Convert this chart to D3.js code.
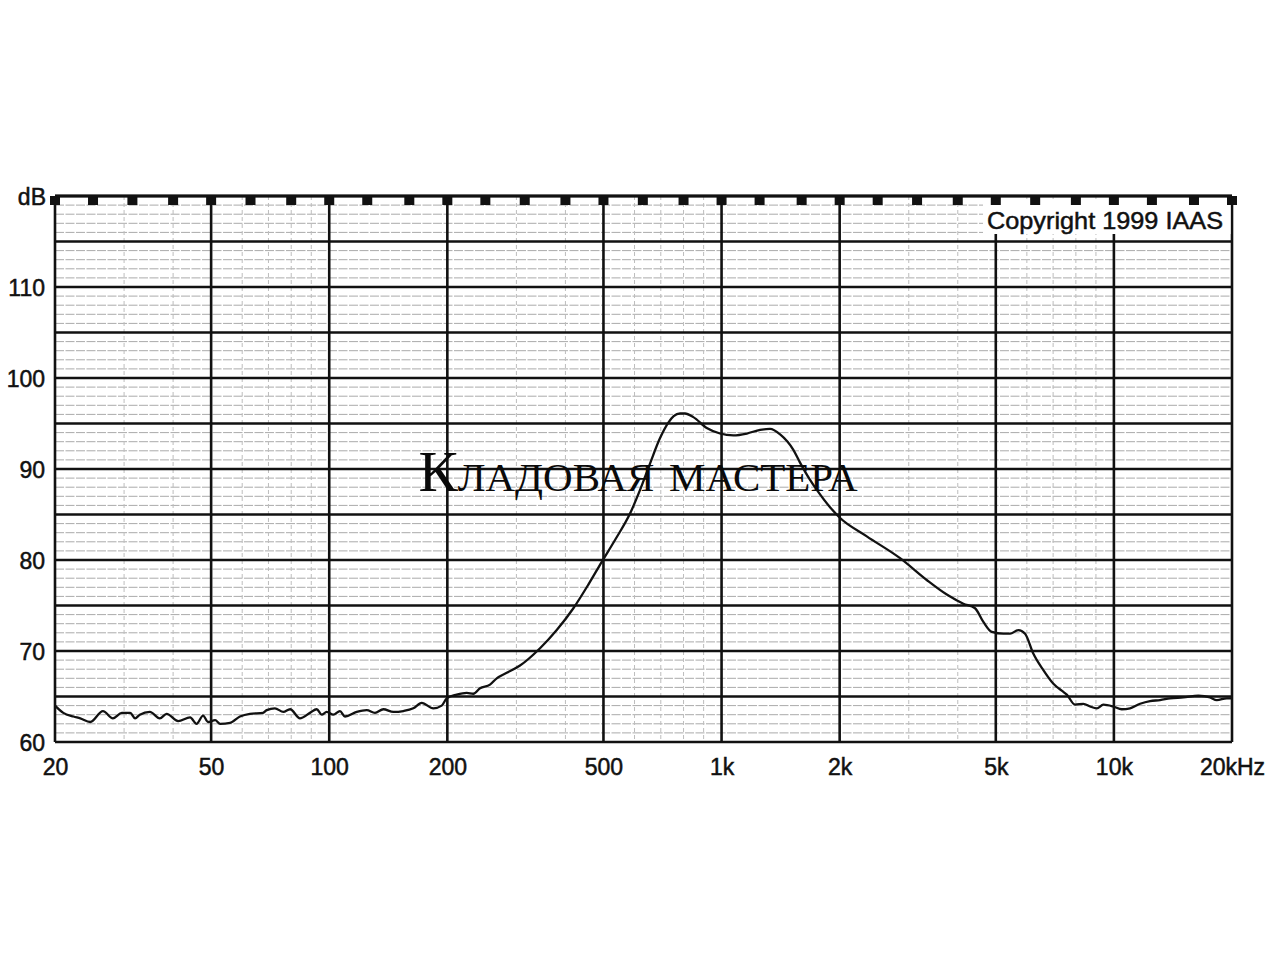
<!DOCTYPE html>
<html>
<head>
<meta charset="utf-8">
<script src="https://cdn.jsdelivr.net/npm/d3@7/dist/d3.min.js"></script>
<style>
  html, body { margin: 0; padding: 0; background: #fff; }
  svg { display: block; }
</style>
</head>
<body>
<svg id="chart" width="1280" height="960"></svg>
<script>
// ---- data ----
const freqHz = [20, 21.0, 22.3, 23.2, 24.6, 26.5, 28.1, 29.6, 31.1, 32.0, 32.9, 34.9, 37.0, 38.5, 41.2, 44.2, 45.9, 47.7, 49.1, 51.2, 52.7, 55.9, 59.2, 62.8, 67.8, 69.3, 72.7, 76.4, 79.5, 84.2, 89.3, 92.9, 95.7, 98.5, 102.4, 106.5, 109.7, 117.5, 124.6, 130.8, 137.4, 145.7, 154.5, 163.8, 172.1, 184.2, 193.5, 199.3, 211.3, 224.1, 233.0, 242.3, 256.9, 267.3, 283.4, 306.4, 344.6, 380.1, 419.1, 457.6, 495.1, 535.1, 584.4, 619.8, 657.1, 697.0, 731.8, 755, 783.7, 807.1, 847.4, 916.9, 991, 1072, 1160, 1254, 1329, 1410, 1524, 1585, 1681, 1749, 1890, 1996, 2345, 2851, 3334, 3750, 4134, 4427, 4648, 4884, 5228, 5437, 5709, 5937, 6235, 6610, 7011, 7435, 7585, 7962, 8360, 8694, 9044, 9398, 9966, 10472, 10996, 11662, 12366, 13114, 13906, 15032, 16418, 17580, 18292, 19396, 20000];
const splDb = [64.0, 63.2, 62.8, 62.6, 62.2, 63.4, 62.6, 63.2, 63.2, 62.6, 63.0, 63.3, 62.6, 63.1, 62.3, 62.7, 62.0, 62.9, 62.2, 62.4, 62.0, 62.1, 62.8, 63.1, 63.2, 63.5, 63.7, 63.3, 63.6, 62.6, 63.2, 63.6, 63.0, 63.3, 63.0, 63.4, 62.8, 63.3, 63.5, 63.2, 63.6, 63.3, 63.4, 63.7, 64.3, 63.7, 64.0, 64.8, 65.2, 65.4, 65.3, 65.9, 66.3, 67.0, 67.6, 68.4, 70.3, 72.3, 74.7, 77.3, 79.8, 82.2, 85.1, 87.7, 90.6, 93.4, 95.1, 95.8, 96.1, 96.1, 95.7, 94.5, 93.9, 93.7, 93.9, 94.3, 94.4, 93.8, 92.1, 90.7, 88.8, 87.7, 85.8, 84.7, 82.6, 80.2, 77.8, 76.2, 75.2, 74.7, 73.2, 72.1, 71.9, 71.9, 72.3, 71.9, 69.7, 67.9, 66.4, 65.5, 65.2, 64.1, 64.2, 63.9, 63.7, 64.1, 63.9, 63.6, 63.7, 64.2, 64.5, 64.6, 64.8, 64.9, 65.1, 64.9, 64.6, 64.8, 64.8];

const majorFreqs = [20, 50, 100, 200, 500, 1000, 2000, 5000, 10000, 20000];
const freqTickLabels = ["20", "50", "100", "200", "500", "1k", "2k", "5k", "10k", "20kHz"];
const minorFreqs = [30, 40, 60, 70, 80, 90, 300, 400, 600, 700, 800, 900, 3000, 4000, 6000, 7000, 8000, 9000];
const thirdOctaveFreqs = [20, 25, 31.5, 40, 50, 63, 80, 100, 125, 160, 200, 250, 315, 400, 500, 630, 800, 1000, 1250, 1600, 2000, 2500, 3150, 4000, 5000, 6300, 8000, 10000, 12500, 16000, 20000];
const dbTickValues = [60, 70, 80, 90, 100, 110];
const dbTickLabels = ["60", "70", "80", "90", "100", "110"];
const dbUnitLabel = "dB";
const copyrightText = "Copyright 1999 IAAS";
const watermarkText = "Кладовая мастера";

(function () {
// ---- layout ----
const pL = 55, pR = 1232, pT = 196, pB = 742;
const svg = d3.select("#chart");
const x = d3.scaleLog().domain([20, 20000]).range([pL, pR]);
const y = d3.scaleLinear().domain([60, 120]).range([pB, pT]);
const ink = "#111";
const font = "'Liberation Sans', Arial, Helvetica, sans-serif";

svg.append("rect").attr("width", 1280).attr("height", 960).attr("fill", "#fff");

const grid = svg.append("g");
// light 1 dB lines
const fineDb = d3.range(61, 120).filter(d => d % 5 !== 0);
grid.selectAll("line.hfine").data(fineDb).join("line")
  .attr("x1", pL).attr("x2", pR)
  .attr("y1", d => y(d)).attr("y2", d => y(d))
  .attr("stroke", "#aaaaaa").attr("stroke-width", 1)
  .attr("stroke-dasharray", "9,1.5");
// light vertical minor lines
grid.selectAll("line.vminor").data(minorFreqs).join("line")
  .attr("x1", d => x(d)).attr("x2", d => x(d))
  .attr("y1", pT).attr("y2", pB)
  .attr("stroke", "#bdbdbd").attr("stroke-width", 1)
  .attr("stroke-dasharray", "4,3");
// bold 5 dB lines
const boldDb = d3.range(60, 121, 5);
grid.selectAll("line.hbold").data(boldDb).join("line")
  .attr("x1", pL).attr("x2", pR)
  .attr("y1", d => y(d)).attr("y2", d => y(d))
  .attr("stroke", ink).attr("stroke-width", 2.5);
// bold vertical major lines
grid.selectAll("line.vmajor").data(majorFreqs).join("line")
  .attr("x1", d => x(d)).attr("x2", d => x(d))
  .attr("y1", pT).attr("y2", pB)
  .attr("stroke", ink).attr("stroke-width", 2.6);

// copyright box (white, covers grid)
const cbox = svg.append("g");
cbox.append("rect")
  .attr("x", 983).attr("y", pT + 3).attr("width", pR - 1.5 - 983).attr("height", 35)
  .attr("fill", "#fff");
cbox.append("text")
  .attr("x", 1223).attr("y", 229)
  .attr("text-anchor", "end")
  .attr("font-family", font).attr("font-size", 24.5)
  .attr("textLength", 236).attr("lengthAdjust", "spacingAndGlyphs")
  .attr("fill", ink).attr("stroke", ink).attr("stroke-width", 0.5)
  .text(copyrightText);

// top 1/3-octave markers
svg.append("g").selectAll("rect").data(thirdOctaveFreqs).join("rect")
  .attr("x", d => x(d) - 5).attr("y", pT)
  .attr("width", 10).attr("height", 9)
  .attr("fill", ink);
svg.append("line").attr("x1", pL).attr("x2", pR).attr("y1", pT).attr("y2", pT)
  .attr("stroke", ink).attr("stroke-width", 2.8);

// curve
const line = d3.line()
  .x((d, i) => x(freqHz[i]))
  .y(d => y(d))
  .curve(d3.curveMonotoneX);
svg.append("path")
  .attr("d", line(splDb))
  .attr("fill", "none").attr("stroke", ink)
  .attr("stroke-width", 2.3).attr("stroke-linejoin", "round");

// watermark
svg.append("text")
  .attr("x", 638).attr("y", 491)
  .attr("text-anchor", "middle")
  .attr("font-family", "'Liberation Serif', 'DejaVu Serif', serif")
  .attr("font-size", 56)
  .style("font-variant", "small-caps")
  .attr("textLength", 439).attr("lengthAdjust", "spacingAndGlyphs")
  .attr("fill", "#0a0a0a").text(watermarkText);

// axes
const xAxis = d3.axisBottom(x)
  .tickValues(majorFreqs)
  .tickFormat((d, i) => freqTickLabels[i])
  .tickSize(0).tickPadding(0);
const gx = svg.append("g").attr("transform", `translate(0,${pB})`).call(xAxis);
gx.select(".domain").remove();
gx.selectAll("text")
  .attr("font-family", font).attr("font-size", 23).attr("fill", ink)
  .attr("stroke", ink).attr("stroke-width", 0.5)
  .attr("dy", null).attr("y", 33);

const yAxis = d3.axisLeft(y)
  .tickValues(dbTickValues)
  .tickFormat((d, i) => dbTickLabels[i])
  .tickSize(0).tickPadding(10);
const gy = svg.append("g").attr("transform", `translate(${pL},0)`).call(yAxis);
gy.select(".domain").remove();
gy.selectAll("text")
  .attr("font-family", font).attr("font-size", 23).attr("fill", ink)
  .attr("stroke", ink).attr("stroke-width", 0.5)
  .attr("dy", "0.36em");

svg.append("text")
  .attr("x", pL - 9).attr("y", y(120) + 9)
  .attr("text-anchor", "end")
  .attr("font-family", font).attr("font-size", 23).attr("fill", ink)
  .attr("stroke", ink).attr("stroke-width", 0.5)
  .text(dbUnitLabel);
})();
</script>
</body>
</html>
